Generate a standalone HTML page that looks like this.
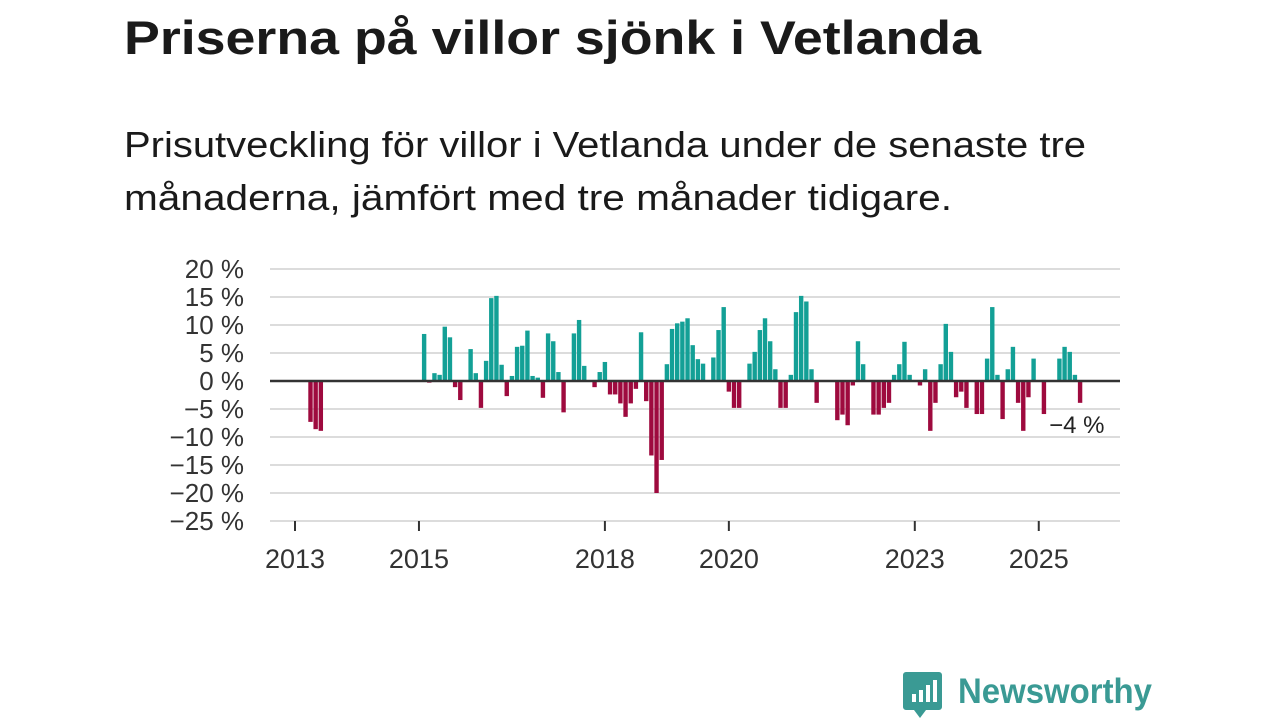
<!DOCTYPE html>
<html><head><meta charset="utf-8">
<style>
html,body{margin:0;padding:0;background:#fff;}
svg{display:block;font-family:"Liberation Sans",sans-serif;}
</style></head>
<body>
<svg id="chart" width="1280" height="720" viewBox="0 0 1280 720">
  <text x="124" y="54" font-size="47" font-weight="bold" fill="#1a1a1a" textLength="857" lengthAdjust="spacingAndGlyphs">Priserna på villor sjönk i Vetlanda</text>
  <text x="124" y="157" font-size="36" fill="#1a1a1a" textLength="962" lengthAdjust="spacingAndGlyphs">Prisutveckling för villor i Vetlanda under de senaste tre</text>
  <text x="124" y="210" font-size="36" fill="#1a1a1a" textLength="828" lengthAdjust="spacingAndGlyphs">månaderna, jämfört med tre månader tidigare.</text>
  <g id="grid"></g>
  <g id="yaxis"></g>
  <g id="xaxis"></g>
  <g id="bars"></g>
  <line id="zero" stroke="#333" stroke-width="2.5"/>
  <g id="lbl"></g>
  <g>
    <path d="M906 672 h33 a3 3 0 0 1 3 3 v32 a3 3 0 0 1 -3 3 h-13 l-6 8 l-6 -8 h-8 a3 3 0 0 1 -3 -3 v-32 a3 3 0 0 1 3 -3z" fill="#3a9a94"/>
    <rect x="912" y="694" width="4" height="8" fill="#fff"/>
    <rect x="919" y="690" width="4" height="12" fill="#fff"/>
    <rect x="926" y="685" width="4" height="17" fill="#fff"/>
    <rect x="933" y="680" width="4" height="22" fill="#fff"/>
    <text x="958" y="703" font-size="35" font-weight="bold" fill="#3a9a94" textLength="194" lengthAdjust="spacingAndGlyphs">Newsworthy</text>
  </g>
</svg>
<script>
const yTicks = [20, 15, 10, 5, 0, -5, -10, -15, -20, -25];
const yTickLabels = ["20 %","15 %","10 %","5 %","0 %","−5 %","−10 %","−15 %","−20 %","−25 %"];
const xTickYears = [2013, 2015, 2018, 2020, 2023, 2025];
const startYear = 2013;
// monthly change (%) from Jan 2013; null = no data
const values = [null,null,null,-7.3,-8.6,-8.9,
 null,null,null,null,null,null,null,null,null,null,null,null,null,null,null,null,null,null,null,
 8.4,-0.3,1.4,1.1,9.7,7.8,-1.1,-3.4,0,5.7,1.4,-4.8,3.6,14.8,15.2,2.9,-2.7,0.9,6.1,6.3,9.0,0.9,0.6,-3.0,
 8.5,7.1,1.6,-5.6,0,8.5,10.9,2.7,0,-1.1,1.6,3.4,-2.4,-2.4,-4.0,-6.4,-4.0,-1.4,8.7,-3.6,-13.3,-20.0,-14.1,
 3.0,9.3,10.3,10.6,11.2,6.4,3.9,3.1,0,4.2,9.1,13.2,-1.9,-4.8,-4.8,0,3.1,5.2,9.1,11.2,7.1,2.1,-4.8,-4.8,
 1.1,12.3,15.2,14.2,2.1,-3.9,0,0,0,-7.0,-6.0,-7.9,-0.8,7.1,3.0,0,-6.0,-6.0,-4.8,-3.9,1.1,3.0,7.0,1.1,
 0,-0.8,2.1,-8.9,-3.9,3.0,10.2,5.2,-2.9,-1.9,-4.8,0,-5.9,-5.9,4.0,13.2,1.1,-6.8,2.1,6.1,-3.9,-8.9,-2.9,4.0,
 0,-5.9,0,0,4.0,6.1,5.2,1.1,-3.9];
const lastLabel = "−4 %";

const NS='http://www.w3.org/2000/svg';
const L=270,R=1120;
const y = v => 381 - v*5.6;
const xm = i => 295 + i*5.165;
const xYear = yr => xm((yr-startYear)*12);
function mk(tag,attrs,parent){const e=document.createElementNS(NS,tag);for(const k in attrs)e.setAttribute(k,attrs[k]);parent.appendChild(e);return e;}
const grid=document.getElementById('grid'),ya=document.getElementById('yaxis'),xa=document.getElementById('xaxis'),bars=document.getElementById('bars');
yTicks.forEach((t,k)=>{
  const g=mk('line',{x1:L,x2:R,y1:y(t),y2:y(t),stroke:'#dcdcdc','stroke-width':2},grid);
  
  
  const tx=mk('text',{x:244,y:y(t)+9,'text-anchor':'end','font-size':26,fill:'#333'},ya);
  tx.textContent=yTickLabels[k];
  
  
});
xTickYears.forEach(yr=>{
  const xx=xYear(yr);
  const tk=mk('line',{x1:xx,x2:xx,y1:521,y2:531,stroke:'#333','stroke-width':2},xa);
  
  
  const tx=mk('text',{x:xx,y:568,'text-anchor':'middle','font-size':27,fill:'#333'},xa);
  tx.textContent=yr;
  
  
});
let lastI=-1;
values.forEach((v,i)=>{
  if(v===null||v===0) return;
  lastI=i;
  const top=v>0?y(v):y(0), h=Math.abs(y(v)-y(0));
  const r=mk('rect',{x:xm(i)-2.2,y:top,width:4.4,height:h,fill:v>0?'#13a096':'#9e0a3e'},bars);
  
  
});
const z=document.getElementById('zero');
z.setAttribute('x1',L);z.setAttribute('x2',R);z.setAttribute('y1',y(0));z.setAttribute('y2',y(0));
const lg=document.getElementById('lbl');
const lx=xm(lastI)-31, ly=y(values[lastI])+30;
mk('text',{x:lx,y:ly,'font-size':24,fill:'#fff',stroke:'#fff','stroke-width':6,'stroke-linejoin':'round'},lg).textContent=lastLabel;
const lt=mk('text',{x:lx,y:ly,'font-size':24,fill:'#222'},lg);
lt.textContent=lastLabel;


</script>
</body></html>
